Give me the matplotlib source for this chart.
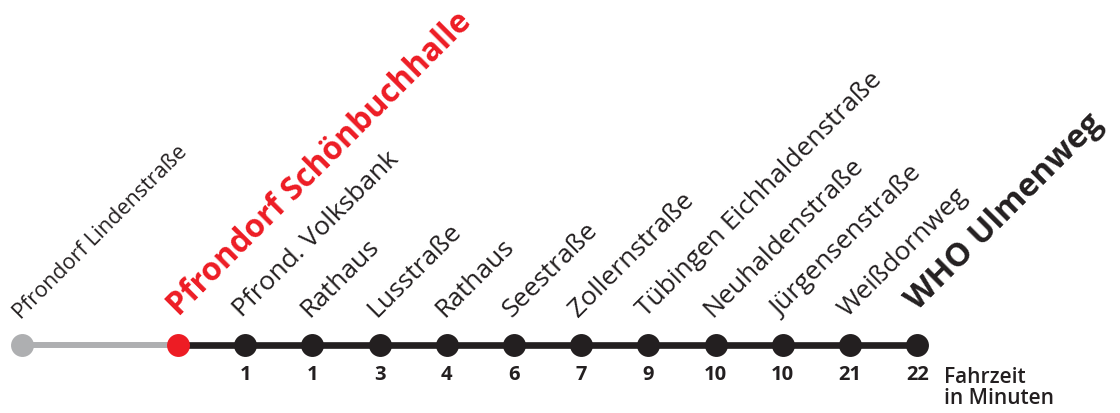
import matplotlib
matplotlib.use("Agg")
import matplotlib.pyplot as plt

stations = ["Pfrondorf Lindenstraße", "Pfrondorf Schönbuchhalle", "Pfrond. Volksbank",
            "Rathaus", "Lusstraße", "Rathaus", "Seestraße", "Zollernstraße",
            "Tübingen Eichhaldenstraße", "Neuhaldenstraße", "Jürgensenstraße",
            "Weißdornweg", "WHO Ulmenweg"]
minutes = [None, None, 1, 1, 3, 4, 6, 7, 9, 10, 10, 21, 22]
roles = ["past", "current"] + ["next"] * 10 + ["final"]

GREY = "#AEAFB1"
RED = "#ED1C24"
BLACK = "#231F20"
FONT = "Open Sans"

# layout: station index spacing; the already-passed station sits further left
GAP = 2.32
xpos = [-GAP] + list(range(0, len(stations) - 1))

W, H = 1120, 414
fig = plt.figure(figsize=(W / 100, H / 100), dpi=100)
ax = fig.add_axes([0, 0, 1, 1])
px = 67.2  # pixels per station step
x0 = 178
ax.set_xlim(-x0 / px, (W - x0) / px)
ax.set_ylim(H, 0)
ax.axis("off")

LINE_Y = 346

# lines
ax.plot(xpos[0:2], [LINE_Y, LINE_Y], color=GREY, lw=4.3, solid_capstyle="butt", zorder=1)
ax.plot(xpos[1:], [LINE_Y] * (len(xpos) - 1), color=BLACK, lw=4.8, solid_capstyle="butt", zorder=1)

for x, name, m, role in zip(xpos, stations, minutes, roles):
    col = {"past": GREY, "current": RED}.get(role, BLACK)
    ax.plot([x], [LINE_Y], "o", ms=16.5, color=col, mec="none", zorder=3)
    if role == "past":
        kw = dict(fontsize=15.5, color=BLACK, fontweight="normal")
        off = (-1, 19)
    elif role == "current":
        kw = dict(fontsize=23, color=RED, fontweight="bold")
        off = (1, 21)
    elif role == "final":
        kw = dict(fontsize=23.5, color=BLACK, fontweight="bold")
        off = (0, 25)
    else:
        kw = dict(fontsize=19, color=BLACK, fontweight="normal")
        off = (-2, 20)
    ax.annotate(name, (x, LINE_Y), xytext=off, textcoords="offset points",
                rotation=45, rotation_mode="anchor", ha="left", va="baseline",
                family=FONT, **kw)
    if m is not None:
        ax.annotate(str(m), (x, LINE_Y), xytext=(0, -14), textcoords="offset points",
                    ha="center", va="top", family=FONT, fontweight="bold",
                    fontsize=14.5, color=BLACK)

ax.annotate("Fahrzeit\nin Minuten", (xpos[-1], LINE_Y), xytext=(19, -15),
            textcoords="offset points", ha="left", va="top", family=FONT,
            fontweight="semibold", fontsize=15, color=BLACK, linespacing=1.0)

fig.savefig("out.png", dpi=100)
